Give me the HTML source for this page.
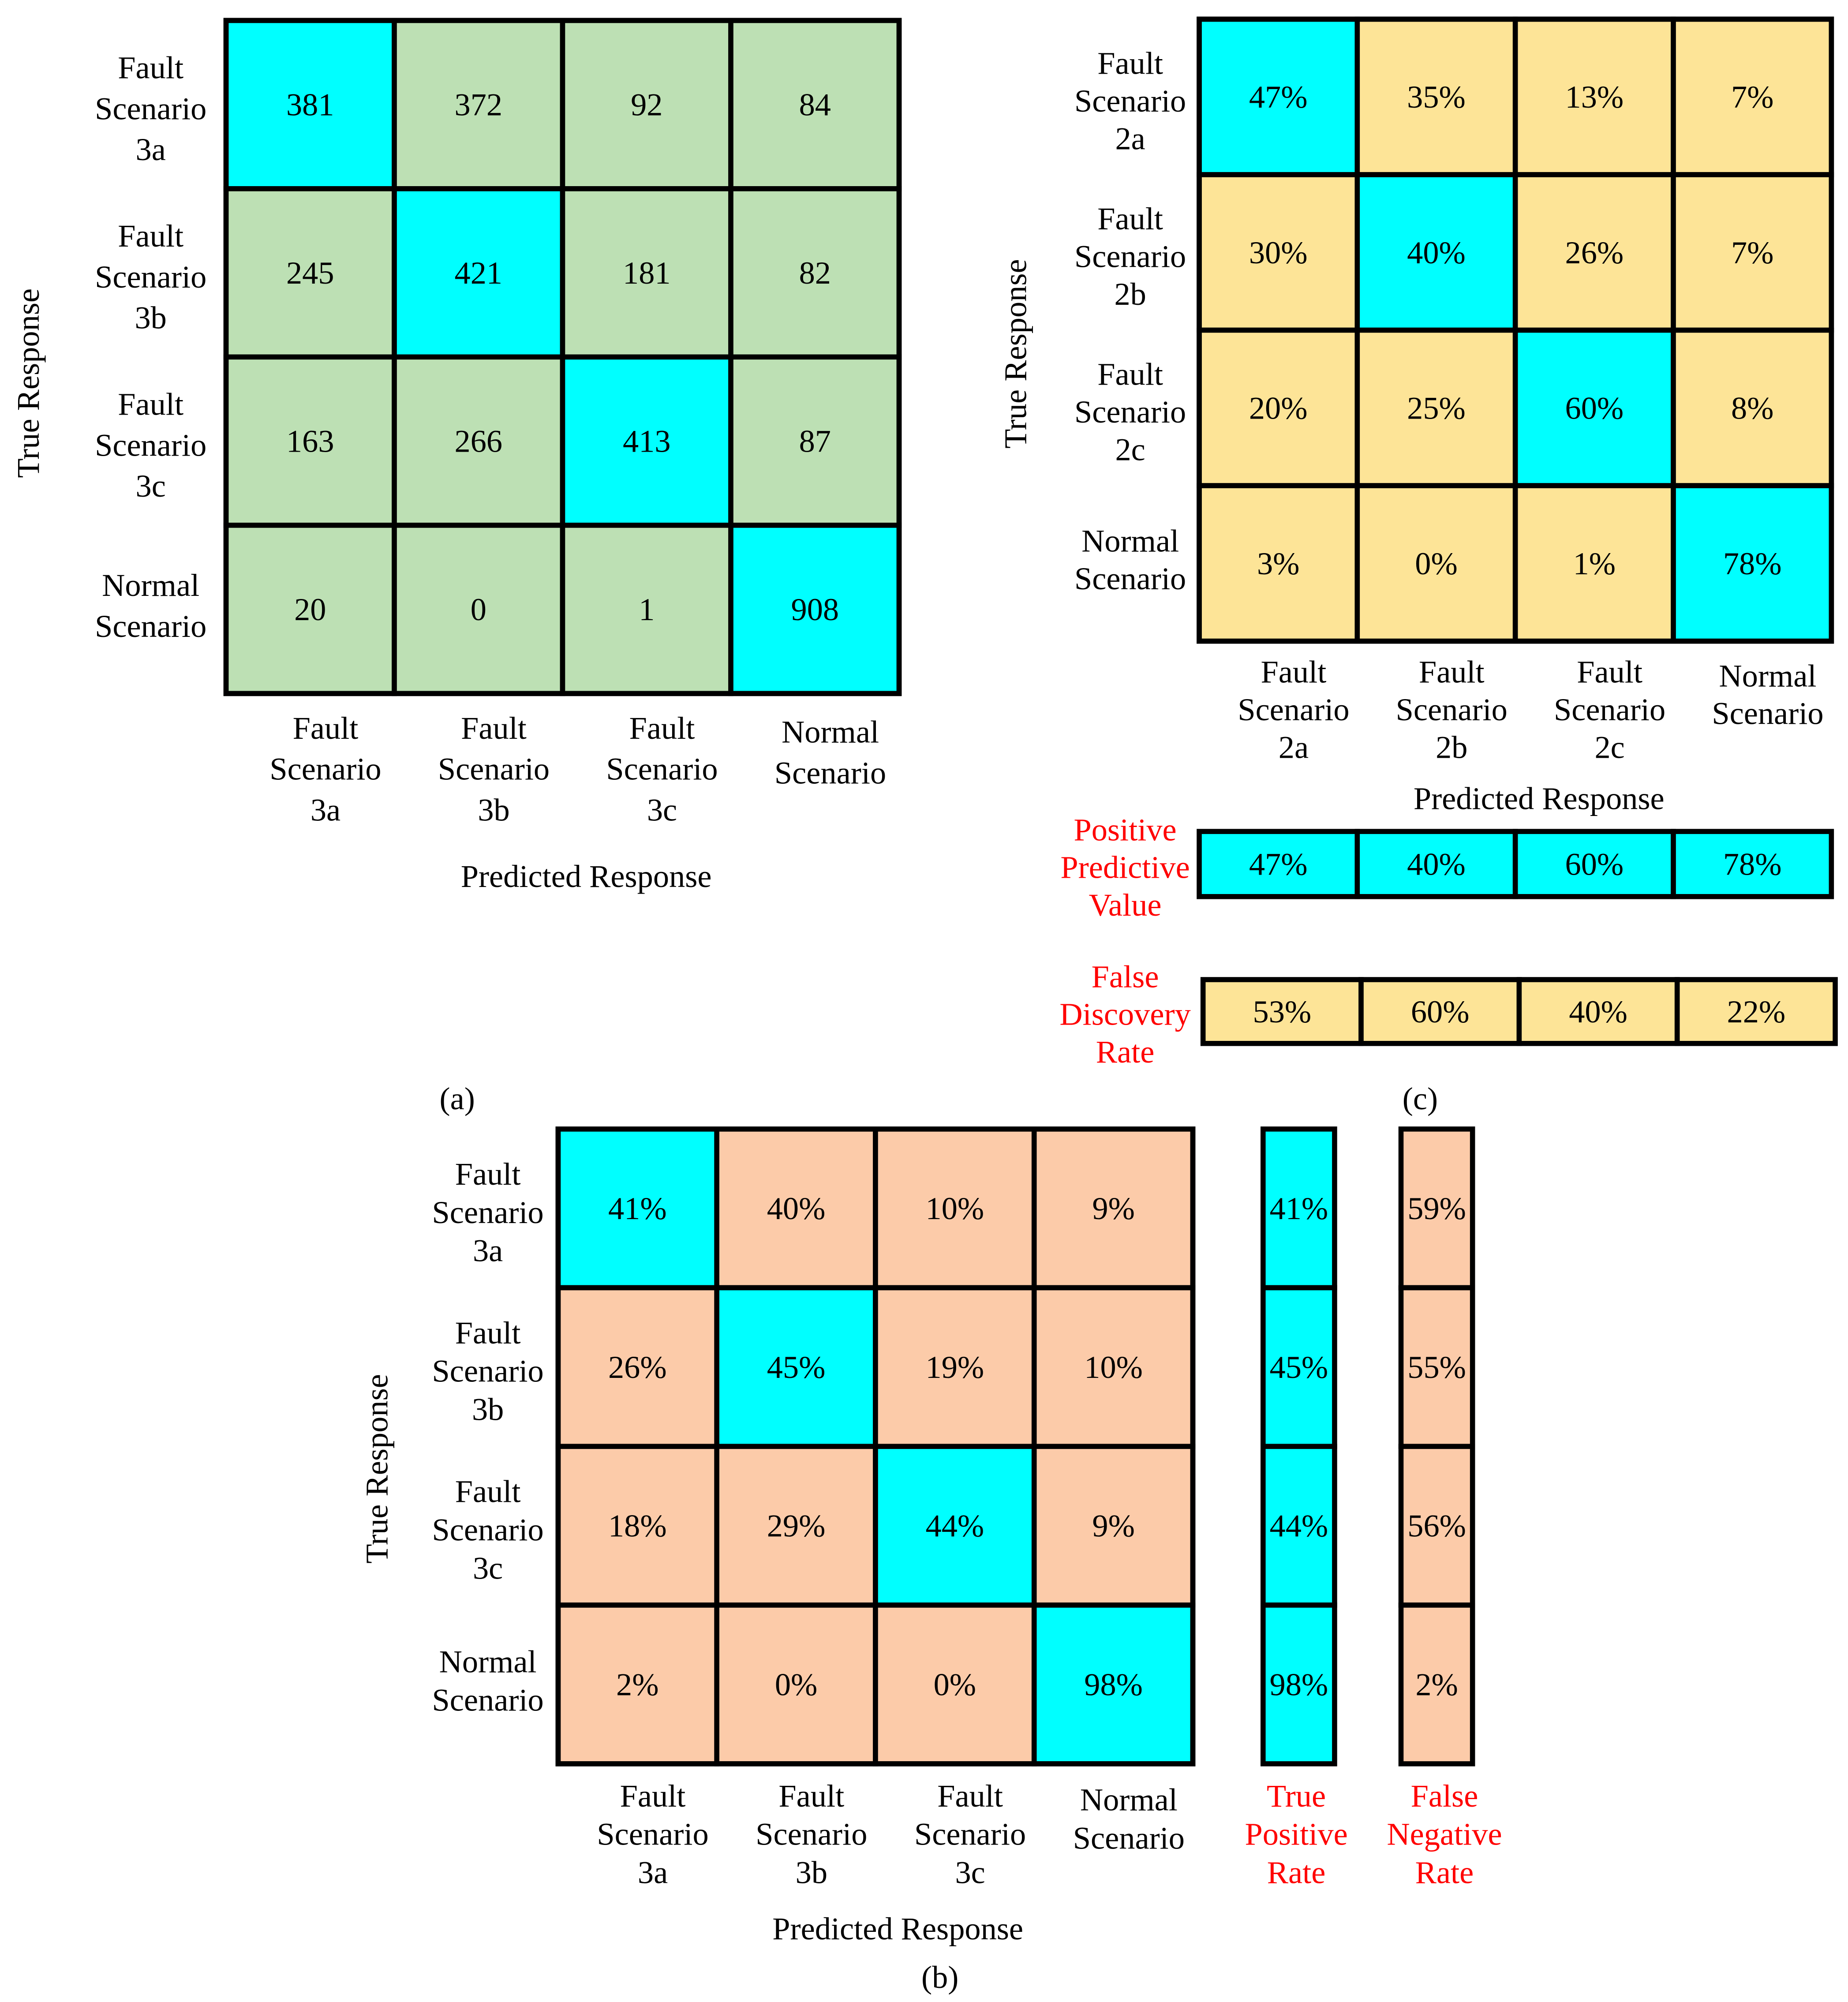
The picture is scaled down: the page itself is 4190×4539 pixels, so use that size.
<!DOCTYPE html>
<html><head><meta charset="utf-8"><style>
html,body{margin:0;padding:0;background:#fff;}
svg{display:block;}
text{font-family:"Liberation Serif","Times New Roman",serif;}
</style></head><body>
<svg id="fig" width="4190" height="4539" viewBox="0 0 1447 1567.5" xmlns="http://www.w3.org/2000/svg" font-family="Liberation Serif, serif"></svg>
<script>
const labelsA = [["Fault","Scenario","3a"],["Fault","Scenario","3b"],["Fault","Scenario","3c"],["Normal","Scenario"]];
const labelsC = [["Fault","Scenario","2a"],["Fault","Scenario","2b"],["Fault","Scenario","2c"],["Normal","Scenario"]];
const matrixA = [[381,372,92,84],[245,421,181,82],[163,266,413,87],[20,0,1,908]];
const matrixC = [[47,35,13,7],[30,40,26,7],[20,25,60,8],[3,0,1,78]];
const matrixB = [[41,40,10,9],[26,45,19,10],[18,29,44,9],[2,0,0,98]];
const ppvC = [47,40,60,78];
const fdrC = [53,60,40,22];
const tprB = [41,45,44,98];
const fnrB = [59,55,56,2];

const NS="http://www.w3.org/2000/svg";
const svg=document.getElementById('fig');
const CY="#00ffff";
function el(tag,attrs,parent){const e=document.createElementNS(NS,tag);for(const k in attrs)e.setAttribute(k,attrs[k]);(parent||svg).appendChild(e);return e;}
function txt(x,y,s,opts,parent){opts=opts||{};const t=el('text',{x:x,y:y,'font-size':opts.size||25,'text-anchor':'middle','dominant-baseline':'central'},parent);t.setAttribute('style','fill:'+(opts.fill||'#000')+(opts.bold?';font-weight:bold':''));if(opts.rot)t.setAttribute('transform','rotate(-90 '+x+' '+y+')');t.textContent=s;return t;}
function lines(x,cy,arr,sp,opts,parent){const g=el('g',{},parent);arr.forEach((s,i)=>txt(x,cy+(i-(arr.length-1)/2)*sp,s,opts,g));return g;}

function matrix(name,x0,y0,w,h,data,fmt,bg,rowLab,colLab,rlx,clY,sp){
  const g=el('g',{});
  
  
  const n=data.length, cw=w/n, ch=h/n;
  data.forEach((row,i)=>row.forEach((v,j)=>{
    const r=el('rect',{x:x0+j*cw,y:y0+i*ch,width:cw,height:ch,fill:i===j?CY:bg,stroke:'#000','stroke-width':4},g);
    
    
    const t=txt(x0+j*cw+cw/2,y0+i*ch+ch/2,fmt(v),{},g);
    
    
  }));
  el('rect',{x:x0,y:y0,width:w,height:h,fill:'none',stroke:'#000','stroke-width':4},g);
  rowLab.forEach((l,i)=>{const lg=lines(rlx,y0+i*ch+ch/2+(l.length===3?3:-3),l,sp,{},g);
    
    });
  colLab.forEach((l,j)=>{const cy=clY+(l.length===3?sp:sp/2+3);const lg=lines(x0+j*cw+cw/2+12,cy,l,sp,{},g);
    
    });
  return g;
}
function strip(name,x0,y0,w,h,vals,bg,horizontal){
  const g=el('g',{});
  
  
  const n=vals.length;
  vals.forEach((v,i)=>{
    const cw=horizontal?w/n:w, ch=horizontal?h:h/n;
    const x=horizontal?x0+i*cw:x0, y=horizontal?y0:y0+i*ch;
    const r=el('rect',{x:x,y:y,width:cw,height:ch,fill:bg,stroke:'#000','stroke-width':4},g);
    
    
    txt(x+cw/2,y+ch/2,v+'%',{},g);
  });
  return g;
}
const pct=v=>v+'%';
const RED='#ff0000';

// Panel (a)
matrix('matrix-a',177,16,527,527,matrixA,v=>String(v),'#bde0b4',labelsA,labelsA,118,570,32);
txt(22,300,'True Response',{rot:1});
txt(459,686,'Predicted Response');
txt(358,860,'(a)');

// Panel (c)
matrix('matrix-c',939,15,495,487,matrixC,pct,'#fde497',labelsC,labelsC,885,526,29.5);
txt(795,277,'True Response',{rot:1});
txt(1205,625,'Predicted Response');
strip('ppv-strip',939,651,495,51,ppvC,CY,true);
strip('fdr-strip',942,767,495,50,fdrC,'#fde497',true);
lines(881,679,['Positive','Predictive','Value'],29.5,{fill:RED});
lines(881,794,['False','Discovery','Rate'],29.5,{fill:RED});
txt(1112,860,'(c)');

// Panel (b)
matrix('matrix-b',437,884,497,497,matrixB,pct,'#fccba9',labelsA,labelsA,382,1406,30);
txt(295,1150,'True Response',{rot:1});
txt(703,1510,'Predicted Response');
strip('tpr-strip',989,884,56,497,tprB,CY,false);
strip('fnr-strip',1097,884,56,497,fnrB,'#fccba9',false);
lines(1015,1436,['True','Positive','Rate'],30,{fill:RED});
lines(1131,1436,['False','Negative','Rate'],30,{fill:RED});
txt(736,1548,'(b)');
</script>
</body></html>
